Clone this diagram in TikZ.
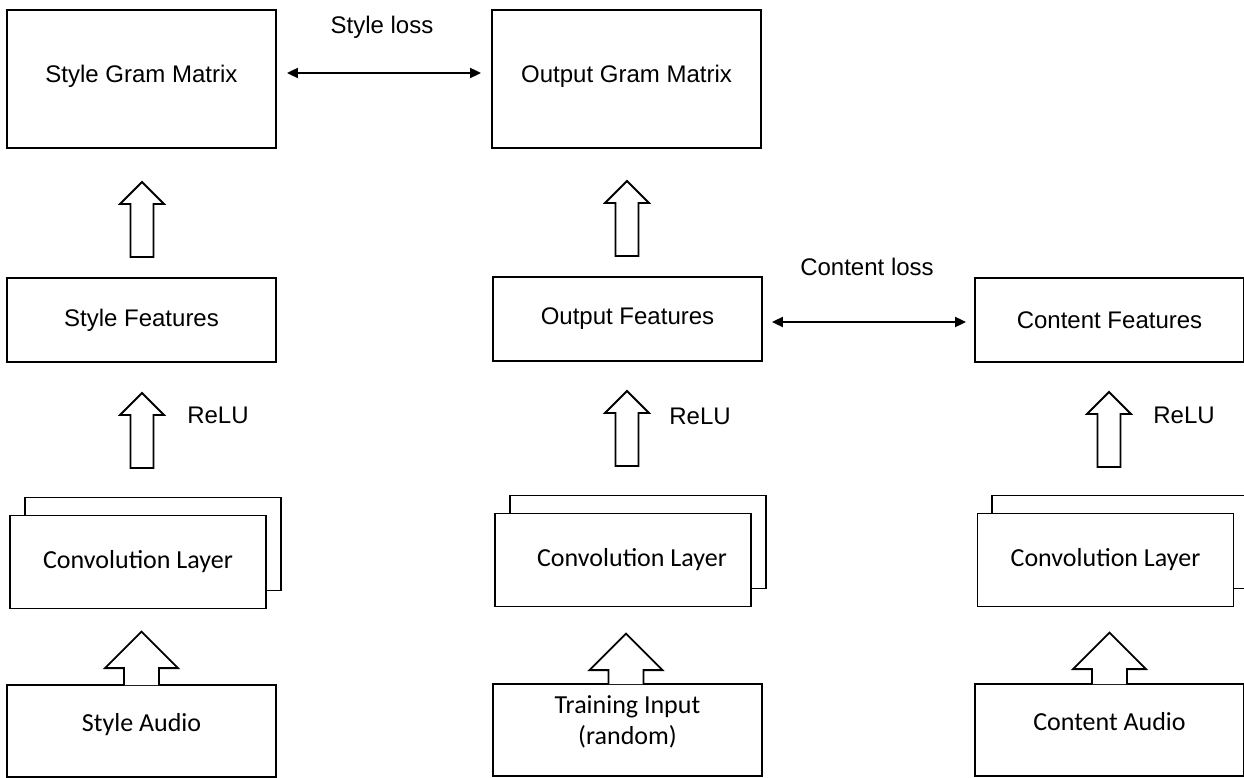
\documentclass[tikz,border=0pt]{standalone}
\usepackage{fontspec}
\setmainfont{Liberation Sans}
\newfontfamily\calibri{Carlito}
\usetikzlibrary{arrows.meta}

\begin{document}
\begin{tikzpicture}[x=1pt,y=-1pt,line width=1.8pt,
    hollow/.style={draw,fill=white,line join=miter},
    loss/.style={{Triangle[length=11pt,width=10pt]}-{Triangle[length=11pt,width=10pt]}},
    every node/.style={font=\fontsize{24}{28}\selectfont}]

      \useasboundingbox (0,0) rectangle (1244,778);

      \begin{scope}[every node/.style={draw,rectangle,inner sep=0pt,minimum width=269pt,
          font=\fontsize{24}{28}\selectfont}]
        \node[minimum height=138pt,text depth=10pt] (sgm) at (141.5,79)  {Style Gram Matrix};
        \node[minimum height=138pt,text depth=10pt] (ogm) at (626.5,79)  {Output Gram Matrix};
        \node[minimum height=84pt]  (sf)  at (141.5,320) {Style Features};
        \node[minimum height=84pt]  (of)  at (627.5,319) {Output Features};
        \node[minimum height=84pt]  (cf)  at (1109.5,320) {Content Features};
      \end{scope}

      \begin{scope}[every node/.style={draw,fill=white,rectangle,inner sep=0pt,
          minimum width=256pt,minimum height=93pt,font=\calibri\fontsize{26}{31}\selectfont}]
        % layers behind
        \node (sc2) at (153,544) {};
        \node (oc2) at (638,542) {};
        \node (cc2) at (1120,542) {};
        \node (sc)  at (138,562)    {Convolution Layer};
        \node (oc)  at (623,560)    {\hspace{18pt}Convolution Layer};
        \node (cc)  at (1105.5,560) {Convolution Layer};
      \end{scope}

      \begin{scope}[every node/.style={draw,rectangle,inner sep=0pt,align=center,
          minimum width=269pt,minimum height=92pt,font=\calibri\fontsize{26}{31}\selectfont}]
        \node[text depth=17pt] (sa) at (141.5,731)  {Style Audio};
        \node[text depth=19pt] (ti) at (627.5,730)  {Training Input\\(random)};
        \node[text depth=17pt] (ca) at (1109.5,730) {Content Audio};
      \end{scope}

      % up arrows
      \draw[hollow] (130.5,257) -- ++(0,-53) -- ++(-10.5,0) -- ++(22,-22) -- ++(22,22) -- ++(-10.5,0) -- ++(0,53) -- cycle;
      \draw[hollow] (615.5,256) -- ++(0,-53) -- ++(-10.5,0) -- ++(22,-22) -- ++(22,22) -- ++(-10.5,0) -- ++(0,53) -- cycle;
      \draw[hollow] (130.5,468) -- ++(0,-53) -- ++(-10.5,0) -- ++(22,-22) -- ++(22,22) -- ++(-10.5,0) -- ++(0,53) -- cycle;
      \draw[hollow] (615.5,466) -- ++(0,-53) -- ++(-10.5,0) -- ++(22,-22) -- ++(22,22) -- ++(-10.5,0) -- ++(0,53) -- cycle;
      \draw[hollow] (1097.5,467) -- ++(0,-53) -- ++(-10.5,0) -- ++(22,-22) -- ++(22,22) -- ++(-10.5,0) -- ++(0,53) -- cycle;

      % input arrows
      \draw[hollow] ([xshift=-17.5pt,yshift=-1pt]sa.north) -- ++(0,-17) -- ++(-19,0) -- ++(36.5,-36.5) -- ++(36.5,36.5) -- ++(-19,0) -- ++(0,17);
      \draw[hollow] ([xshift=-19pt,yshift=-1pt]ti.north) -- ++(0,-14) -- ++(-19,0) -- ++(36.5,-36.5) -- ++(36.5,36.5) -- ++(-19,0) -- ++(0,14);
      \draw[hollow] ([xshift=-17.5pt,yshift=-1pt]ca.north) -- ++(0,-15) -- ++(-19,0) -- ++(36.5,-36.5) -- ++(36.5,36.5) -- ++(-19,0) -- ++(0,15);

      \node (r1) at (218,415)  {ReLU};
      \node (r2) at (700,416)  {ReLU};
      \node (r3) at (1184,415) {ReLU};

      \node (sl) at (382,27)  {Style loss};
      \node (cl) at (867,267) {Content loss};

      \draw[loss] ([xshift=10pt,yshift=6pt]sgm.east) -- ([xshift=-10pt,yshift=6pt]ogm.west);
      \draw[loss] ([xshift=9pt,yshift=-3pt]of.east) -- ([xshift=-8pt,yshift=-2pt]cf.west);

    \end{tikzpicture}
\end{document}
